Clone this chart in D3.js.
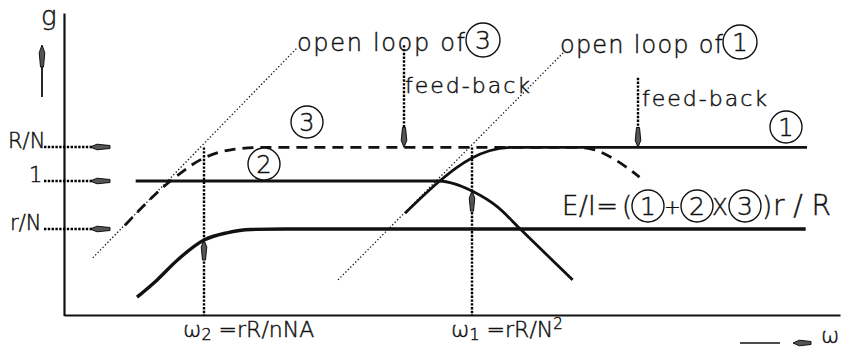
<!DOCTYPE html>
<html>
<head>
<meta charset="utf-8">
<script src="https://cdn.jsdelivr.net/npm/d3@7"></script>
<style>
  html, body { margin: 0; padding: 0; background: #fff; }
  svg { display: block; }
  text { font-family: "DejaVu Sans", sans-serif; font-weight: 200; fill: #111; stroke: #111; stroke-width: 0.45; }
</style>
</head>
<body>
<svg id="chart" width="848" height="347"></svg>
<script>
// Gain g versus frequency ω (both in log units): closed-loop curves ①, ②, ③,
// their open-loop asymptotes and the resulting E/I transfer.

// x: log ω (ω2 at 1, ω1 at 3); y: log g (1 → 0, R/N → 0.7, r/N → -1)
const xDomain = [-0.045, 5.746];
const yDomain = [-2.8, 3.5];

const levelLabels = ["R/N", "1", "r/N"];
const levelValues = [0.7, 0, -1];

// closed loop ① : rises along its open-loop line, then flat at R/N
const curve1U = [2.5, 2.75, 2.88, 3.0, 3.13, 3.3, 5.5];
const curve1V = [-0.67, -0.02, 0.27, 0.48, 0.63, 0.7, 0.7];

// curve ② : flat at 1, rolls off after ω1
const curve2U = [0.49, 2.76, 2.87, 3.0, 3.19, 3.36, 3.75];
const curve2V = [0, 0, -0.06, -0.21, -0.54, -1.0, -2.06];

// curve ③ (dashed) : rises along its open-loop line, flat at R/N, then falls
const curve3U = [0.41, 0.75, 1.0, 1.2, 1.45, 3.77, 3.9, 4.07, 4.25];
const curve3V = [-0.92, 0.0, 0.48, 0.65, 0.7, 0.7, 0.66, 0.44, 0.08];

// resulting curve that settles at r/N
const totalU = [0.5, 0.65, 0.8, 1.0, 1.17, 1.35, 1.6, 5.49];
const totalV = [-2.42, -2.06, -1.65, -1.23, -1.08, -1.01, -1.0, -1.0];

// open-loop asymptotes (dotted)
const openLoop3U = [0.17, 1.70];
const openLoop3V = [-1.6, 2.79];
const openLoop1U = [2.0, 3.68];
const openLoop1V = [-2.06, 2.67];

// corner frequencies
const cornerU = [1, 3];
const cornerSub = ["2", "1"];
const cornerRest = [" =rR/nNA", " =rR/N"];
const cornerArrowTipV = [-1.23, -0.21];

// feed-back markers
const feedbackU = [2.49, 4.24];
const feedbackTopV = [2.83, 2.15];

const svg = d3.select("#chart");
const x = d3.scaleLinear().domain(xDomain).range([64, 840]);
const y = d3.scaleLinear().domain(yDomain).range([315.4, 13]);

const zip = (us, vs) => us.map((u, i) => [u, vs[i]]);
const line = d3.line().x(d => x(d[0])).y(d => y(d[1])).curve(d3.curveMonotoneX);
const straight = d3.line().x(d => x(d[0])).y(d => y(d[1]));

// axes: bare lines without ticks
svg.append("g")
  .attr("transform", `translate(0,${Math.round(y(yDomain[0]))})`)
  .call(d3.axisBottom(x).tickValues([]).tickSizeOuter(0))
  .select(".domain").attr("stroke", "#111").attr("stroke-width", 2.2);
svg.append("g")
  .attr("transform", `translate(${Math.round(x(xDomain[0]))},0)`)
  .call(d3.axisLeft(y).tickValues([]).tickSizeOuter(0))
  .select(".domain").attr("stroke", "#111").attr("stroke-width", 2.2);

// slim arrow head pointing along angle (deg), tip at origin
function arrowHead(cx, cy, angle, len) {
  const p = `M0,0 L-2.8,${len * 0.35} L-1.5,${len} L1.5,${len} L2.8,${len * 0.35} Z`;
  svg.append("path")
    .attr("d", p)
    .attr("transform", `translate(${cx},${cy}) rotate(${angle})`)
    .attr("fill", "#555").attr("stroke", "#000").attr("stroke-width", 0.9);
}

function dottedV(xx, y1, y2) {
  svg.append("line").attr("x1", xx).attr("x2", xx).attr("y1", y1).attr("y2", y2)
    .attr("stroke", "#000").attr("stroke-width", 2.4).attr("stroke-dasharray", "2.4,1.4");
}

// axis name g with upward arrow
svg.append("text").attr("x", 41).attr("y", 25).attr("font-size", 26).text("g");
svg.append("line").attr("x1", 42).attr("x2", 42).attr("y1", 60).attr("y2", 97)
  .attr("stroke", "#111").attr("stroke-width", 1.8);
arrowHead(42, 45, 0, 22);

// level labels with dotted leaders and markers
levelLabels.forEach((lab, i) => {
  const yy = Math.round(y(levelValues[i]));
  const tx = lab === "1" ? 29 : (lab === "R/N" ? 8 : 10);
  svg.append("text").attr("x", tx).attr("y", yy + 1).attr("font-size", 21).text(lab);
  svg.append("line").attr("x1", 44).attr("x2", 92).attr("y1", yy).attr("y2", yy)
    .attr("stroke", "#000").attr("stroke-width", 2.4).attr("stroke-dasharray", "2.4,1.4");
  arrowHead(90, yy, -90, 20);
});

// open-loop asymptotes
[[openLoop3U, openLoop3V], [openLoop1U, openLoop1V]].forEach(([us, vs]) => {
  svg.append("path").attr("d", straight(zip(us, vs)))
    .attr("fill", "none").attr("stroke", "#111").attr("stroke-width", 1.3)
    .attr("stroke-dasharray", "1.3,2.2");
});

// corner-frequency verticals with arrows up to the curves
cornerU.forEach((u, i) => {
  const xx = Math.round(x(u));
  dottedV(xx, y(0.7), y(yDomain[0]));
  arrowHead(xx, y(cornerArrowTipV[i]), 0, 20);
  const t = svg.append("text").attr("x", xx - 21).attr("y", 337).attr("font-size", 22);
  t.append("tspan").text("ω");
  t.append("tspan").attr("dy", 3).attr("font-size", 16).text(cornerSub[i]);
  t.append("tspan").attr("dy", -3).text(cornerRest[i]);
  if (i === 1) t.append("tspan").attr("dy", -8).attr("font-size", 15).text("2");
});

// feed-back markers
feedbackU.forEach((u, i) => {
  const xx = Math.round(x(u));
  dottedV(xx, y(feedbackTopV[i]), y(0.7) - 10);
  arrowHead(xx, y(0.7), 180, 20);
});

// curves
svg.append("path").attr("d", line(zip(totalU, totalV)))
  .attr("fill", "none").attr("stroke", "#111").attr("stroke-width", 3.4);
svg.append("path").attr("d", line(zip(curve2U, curve2V)))
  .attr("fill", "none").attr("stroke", "#111").attr("stroke-width", 2.8);
svg.append("path").attr("d", line(zip(curve1U, curve1V)))
  .attr("fill", "none").attr("stroke", "#111").attr("stroke-width", 2.8);
svg.append("path").attr("d", line(zip(curve3U, curve3V)))
  .attr("fill", "none").attr("stroke", "#111").attr("stroke-width", 2.8)
  .attr("stroke-dasharray", "11,7");

// circled numbers
function circled(cx, cy, r, num, size) {
  svg.append("circle").attr("cx", cx).attr("cy", cy).attr("r", r)
    .attr("fill", "#fff").attr("stroke", "#111").attr("stroke-width", 1.4);
  svg.append("text").attr("x", cx).attr("y", cy + size * 0.36)
    .attr("text-anchor", "middle").attr("font-size", size).text(num);
}
circled(307, 122, 16, "3", 24);
circled(264, 164, 16, "2", 24);
circled(786, 127, 16, "1", 24);

// annotations
svg.append("text").attr("x", 297).attr("y", 51).attr("font-size", 24)
  .attr("textLength", 168).attr("lengthAdjust", "spacing").text("open loop of");
circled(483, 40, 17, "3", 25);
svg.append("text").attr("x", 560).attr("y", 53).attr("font-size", 24)
  .attr("textLength", 163).attr("lengthAdjust", "spacing").text("open loop of");
circled(740, 42, 17, "1", 25);

svg.append("text").attr("x", Math.round(x(feedbackU[0])) + 1).attr("y", 93).attr("font-size", 22)
  .attr("textLength", 125).attr("lengthAdjust", "spacing").text("feed-back");
svg.append("text").attr("x", Math.round(x(feedbackU[1])) + 4).attr("y", 106).attr("font-size", 22)
  .attr("textLength", 125).attr("lengthAdjust", "spacing").text("feed-back");

// transfer formula
const fy = 215;
svg.append("text").attr("x", 562).attr("y", fy).attr("font-size", 26)
  .attr("textLength", 56).attr("lengthAdjust", "spacing").text("E/I=");
svg.append("text").attr("x", 622).attr("y", fy).attr("font-size", 26).text("(");
circled(648, 206, 16, "1", 25);
svg.append("text").attr("x", 672.5).attr("y", fy - 1).attr("font-size", 20)
  .attr("text-anchor", "middle").text("+");
circled(697, 206, 16, "2", 25);
svg.append("text").attr("x", 720).attr("y", fy).attr("font-size", 23)
  .attr("text-anchor", "middle").text("X");
circled(745, 206, 16, "3", 25);
svg.append("text").attr("x", 762).attr("y", fy).attr("font-size", 26).text(")");
svg.append("text").attr("x", 773).attr("y", fy).attr("font-size", 28)
  .attr("textLength", 58).attr("lengthAdjust", "spacing").text("r/R");

// ω axis name with arrow
svg.append("line").attr("x1", 740).attr("x2", 780).attr("y1", 343).attr("y2", 343)
  .attr("stroke", "#111").attr("stroke-width", 1.6);
arrowHead(793, 343, -90, 18);
svg.append("text").attr("x", 821).attr("y", 343).attr("font-size", 22).text("ω");
</script>
</body>
</html>
